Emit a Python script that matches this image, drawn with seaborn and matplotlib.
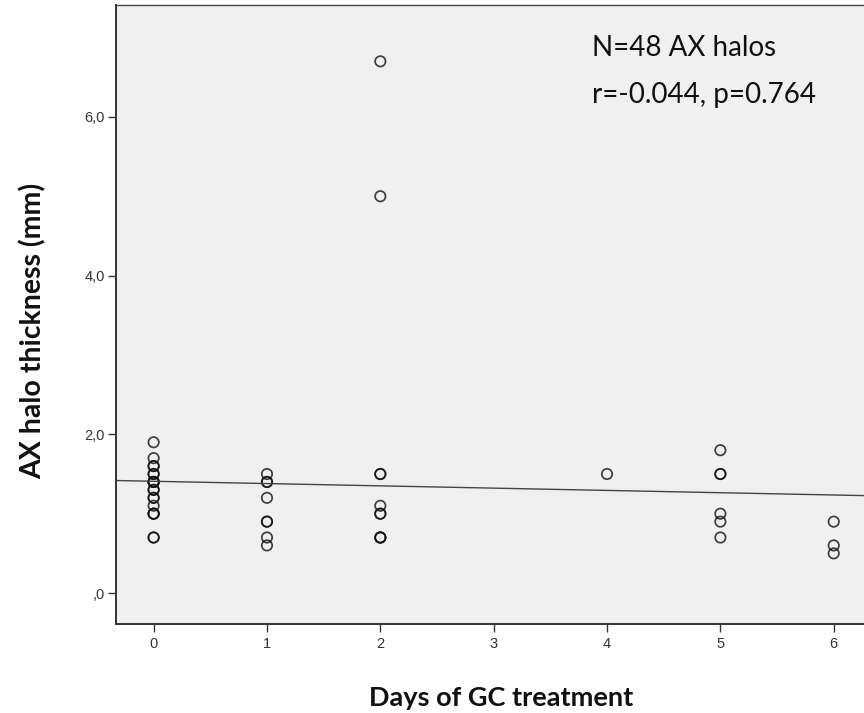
import matplotlib
matplotlib.use("Agg")
import matplotlib.pyplot as plt
import seaborn as sns
import pandas as pd

# Data (48 AX halos)
days_0 = [1.9, 1.7, 1.6, 1.6, 1.5, 1.5, 1.4, 1.4, 1.4, 1.4, 1.3, 1.3, 1.2, 1.2, 1.1, 1.0, 1.0, 1.0, 0.7, 0.7]
days_1 = [1.5, 1.4, 1.4, 1.2, 0.9, 0.9, 0.7, 0.6]
days_2 = [6.7, 5.0, 1.5, 1.5, 1.1, 1.0, 1.0, 0.7, 0.7, 0.7]
days_4 = [1.5]
days_5 = [1.8, 1.5, 1.5, 1.0, 0.9, 0.7]
days_6 = [0.9, 0.6, 0.5]

groups = {0: days_0, 1: days_1, 2: days_2, 4: days_4, 5: days_5, 6: days_6}
x_ticks = [0, 1, 2, 3, 4, 5, 6]
y_ticks = [0, 2, 4, 6]
y_tick_labels = [",0", "2,0", "4,0", "6,0"]

rows = [(d, v) for d, vals in groups.items() for v in vals]
df = pd.DataFrame(rows, columns=["days", "thickness"])

sns.set_theme(style="white")
plt.rcParams["font.family"] = ["Liberation Sans", "DejaVu Sans"]

fig = plt.figure(figsize=(8.64, 7.13), dpi=100)
ax = fig.add_axes([116 / 864, 1 - 624 / 713, 754 / 864, (624 - 5) / 713])
ax.set_facecolor("#f0f0f0")
ax.set_xlim(-0.332, 6.32)
ax.set_ylim(-0.39, 7.41)

sns.regplot(data=df, x="days", y="thickness", ax=ax, ci=None, truncate=False,
            scatter_kws=dict(s=56, facecolors="none", edgecolors="#111111", linewidths=1.25),
            line_kws=dict(color="#444444", lw=1.0))

ax.set_xticks(x_ticks)
ax.set_xticklabels([str(t) for t in x_ticks])
ax.set_yticks(y_ticks)
ax.set_yticklabels(y_tick_labels)
ax.tick_params(axis="both", direction="out", length=6, width=1.0, color="#333333",
               labelsize=10.5, labelcolor="#333333", bottom=True, left=True)
ax.tick_params(axis="x", pad=3)
ax.tick_params(axis="y", pad=2)

for side in ["left", "bottom"]:
    ax.spines[side].set_color("#333333")
    ax.spines[side].set_linewidth(1.4)
ax.spines["top"].set_color("#444444")
ax.spines["top"].set_linewidth(1.0)
ax.spines["right"].set_visible(False)

ax.set_xlabel("")
ax.set_ylabel("")
fig.text(501 / 864, 1 - 706 / 713, "Days of GC treatment", ha="center", va="baseline",
         fontsize=19.5, fontweight="bold", family=["Lato", "DejaVu Sans"], color="#111111")
fig.text(42 / 864, 1 - 331 / 713, "AX halo thickness (mm)", ha="center", va="baseline",
         rotation=90, rotation_mode="anchor", fontsize=20.5, fontweight="bold",
         family=["Lato", "DejaVu Sans"], color="#111111")

fig.text(592 / 864, 1 - 56 / 713, "N=48 AX halos", ha="left", va="baseline",
         fontsize=20, family=["Lato", "DejaVu Sans"], color="#111111")
fig.text(592 / 864, 1 - 103 / 713, "r=-0.044, p=0.764", ha="left", va="baseline",
         fontsize=20, family=["Lato", "DejaVu Sans"], color="#111111")

fig.savefig("out.png", dpi=100, facecolor="white")
